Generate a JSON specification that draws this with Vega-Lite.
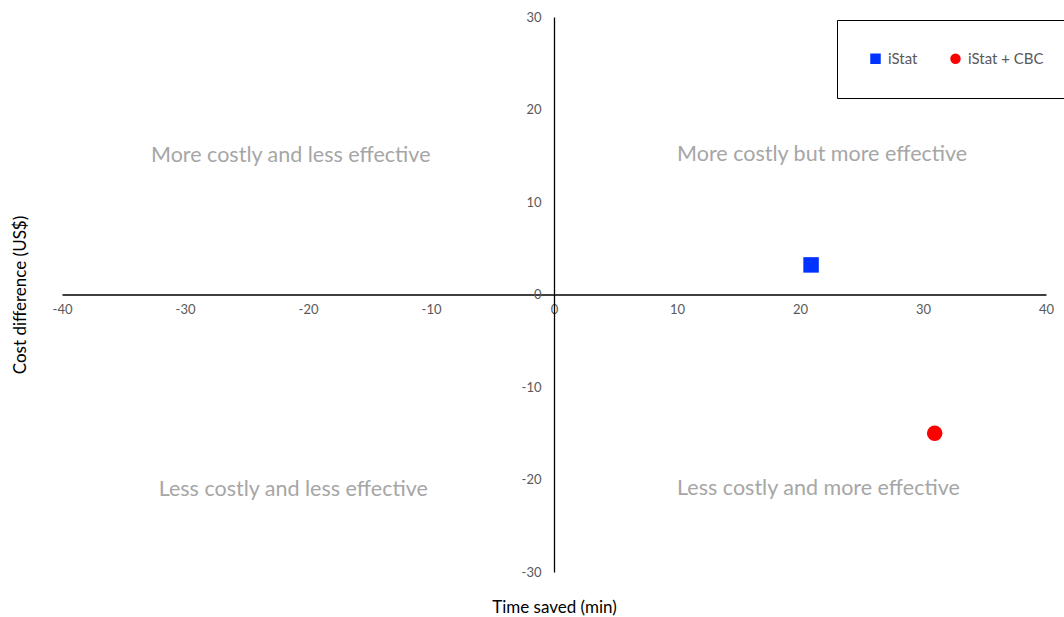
{
  "$schema": "https://vega.github.io/schema/vega-lite/v6.json",
  "width": 984,
  "height": 555,
  "autosize": {"type": "none"},
  "padding": {"left": 62, "top": 17, "right": 18, "bottom": 45},
  "background": "white",
  "config": {"view": {"stroke": null}, "font": "Lato"},
  "layer": [
    {
      "data": {"values": [
        {"label": "More costly and less effective", "x": -21.4, "y": 15.0},
        {"label": "More costly but more effective", "x": 21.8, "y": 15.1},
        {"label": "Less costly and less effective", "x": -21.2, "y": -21.1},
        {"label": "Less costly and more effective", "x": 21.5, "y": -21.0}
      ]},
      "mark": {"type": "text", "fontSize": 21.5, "color": "#a6a6a6", "align": "center", "baseline": "middle"},
      "encoding": {
        "x": {"field": "x", "type": "quantitative"},
        "y": {"field": "y", "type": "quantitative"},
        "text": {"field": "label"}
      }
    },
    {
      "data": {"values": [
        {"series": "iStat", "time": 20.9, "cost": 3.2},
        {"series": "iStat + CBC", "time": 30.95, "cost": -15.0}
      ]},
      "mark": {"type": "point", "filled": true, "opacity": 1, "size": 240},
      "encoding": {
        "x": {
          "field": "time", "type": "quantitative",
          "scale": {"domain": [-40, 40], "nice": false, "zero": false},
          "axis": {
            "orient": "bottom", "offset": -277.5,
            "values": [-40, -30, -20, -10, 0, 10, 20, 30, 40],
            "labelExpr": "datum.value + ''", "labelFlush": false, "labelOverlap": false,
            "domainColor": "#000000", "domainWidth": 1.3,
            "ticks": false, "grid": false,
            "labelColor": "#595959", "labelFontSize": 13, "labelPadding": 9,
            "title": "Time saved (min)", "titleFontSize": 17, "titleFontWeight": "normal",
            "titleColor": "#000000", "titleBaseline": "middle", "titleX": 492, "titleY": 312.5
          }
        },
        "y": {
          "field": "cost", "type": "quantitative",
          "scale": {"domain": [-30, 30], "nice": false, "zero": false},
          "axis": {
            "orient": "left", "offset": -492,
            "values": [-30, -20, -10, 0, 10, 20, 30],
            "labelExpr": "datum.value + ''", "labelFlush": false, "labelOverlap": false,
            "domainColor": "#000000", "domainWidth": 1.3,
            "ticks": false, "grid": false,
            "labelColor": "#595959", "labelFontSize": 13, "labelPadding": 13,
            "title": "Cost difference (US$)", "titleFontSize": 17, "titleFontWeight": "normal",
            "titleColor": "#000000", "titleBaseline": "middle", "titleX": -534, "titleY": 277.5
          }
        },
        "color": {
          "field": "series", "type": "nominal",
          "scale": {"domain": ["iStat", "iStat + CBC"], "range": ["#0033ff", "#ff0000"]},
          "legend": {
            "title": null, "orient": "none", "direction": "horizontal",
            "legendX": 775, "legendY": 3, "padding": 31,
            "strokeColor": "#000000", "fillColor": "white",
            "symbolSize": 110, "labelFontSize": 15, "labelColor": "#595959",
            "labelOffset": 5, "columnPadding": 30,
            "encode": {"legend": {"update": {"strokeWidth": {"value": 1.3}}}}
          }
        },
        "shape": {
          "field": "series", "type": "nominal",
          "scale": {"domain": ["iStat", "iStat + CBC"], "range": ["square", "circle"]}
        }
      }
    }
  ]
}
